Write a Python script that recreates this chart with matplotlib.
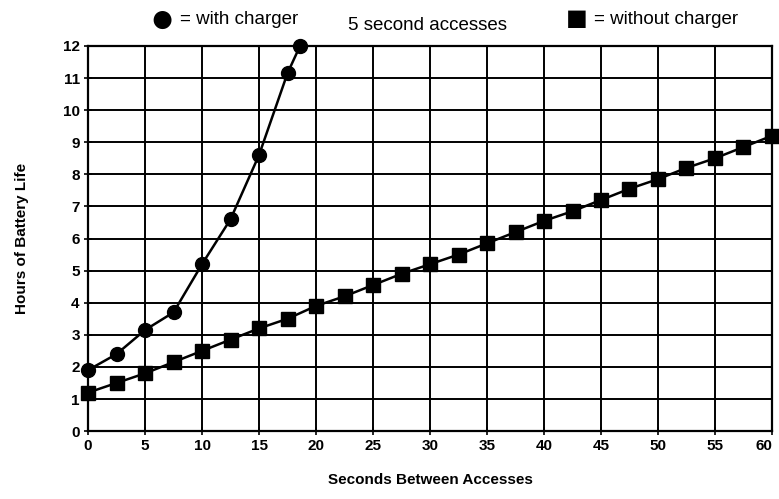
import numpy as np
import matplotlib.pyplot as plt

# data
x_charger = [0, 2.5, 5, 7.5, 10, 12.5, 15, 17.5, 18.6]
y_charger = [1.9, 2.4, 3.15, 3.7, 5.2, 6.6, 8.6, 11.15, 12.0]

x_nocharger = [0, 2.5, 5, 7.5, 10, 12.5, 15, 17.5, 20, 22.5, 25, 27.5, 30,
               32.5, 35, 37.5, 40, 42.5, 45, 47.5, 50, 52.5, 55, 57.5, 60]
y_nocharger = [1.2, 1.5, 1.8, 2.15, 2.5, 2.85, 3.2, 3.5, 3.9, 4.2, 4.55, 4.9, 5.2,
               5.5, 5.85, 6.2, 6.55, 6.85, 7.2, 7.55, 7.85, 8.2, 8.5, 8.85, 9.2]

xticks = np.arange(0, 61, 5)
yticks = np.arange(0, 13, 1)

plt.rcParams['font.family'] = ['Liberation Sans', 'DejaVu Sans']

fig = plt.figure(figsize=(7.79, 4.99), dpi=100)
ax = fig.add_axes([0.113, 0.136, 0.878, 0.772])

ax.plot(x_charger, y_charger, color='black', lw=1.8, marker='o', ms=10,
        clip_on=False, zorder=3)
ax.plot(x_nocharger, y_nocharger, color='black', lw=1.8, marker='s', ms=10,
        clip_on=False, zorder=3)

ax.set_xlim(0, 60)
ax.set_ylim(0, 12)
ax.set_xticks(xticks)
ax.set_yticks(yticks)
ax.grid(True, color='black', lw=1.4)
for s in ax.spines.values():
    s.set_linewidth(1.6)
ax.tick_params(direction='inout', length=6, width=1.2, labelsize=11, pad=3)
for lab in ax.get_xticklabels() + ax.get_yticklabels():
    lab.set_fontweight('bold')
ax.get_xticklabels()[-1].set_horizontalalignment('right')
ax.get_xticklabels()[-1].set_x(60.6)

ax.set_xlabel('Seconds Between Accesses', fontsize=11, fontweight='bold', labelpad=14)
ax.set_ylabel('Hours of Battery Life', fontsize=11, fontweight='bold', labelpad=24)

# legend-like header
fig.text(162 / 779, 1 - 21 / 499, '\u25CF', fontsize=30, ha='center', va='center')
fig.text(180 / 779, 1 - 20 / 499, '= with charger', fontsize=13.5, ha='left', va='center')
fig.text(428 / 779, 1 - 26 / 499, '5 second accesses', fontsize=13.5, ha='center', va='center')
fig.text(577 / 779, 1 - 20 / 499, '\u25A0', fontsize=26, ha='center', va='center')
fig.text(594 / 779, 1 - 20 / 499, '= without charger', fontsize=13.5, ha='left', va='center')

fig.savefig('out.png', dpi=100)
